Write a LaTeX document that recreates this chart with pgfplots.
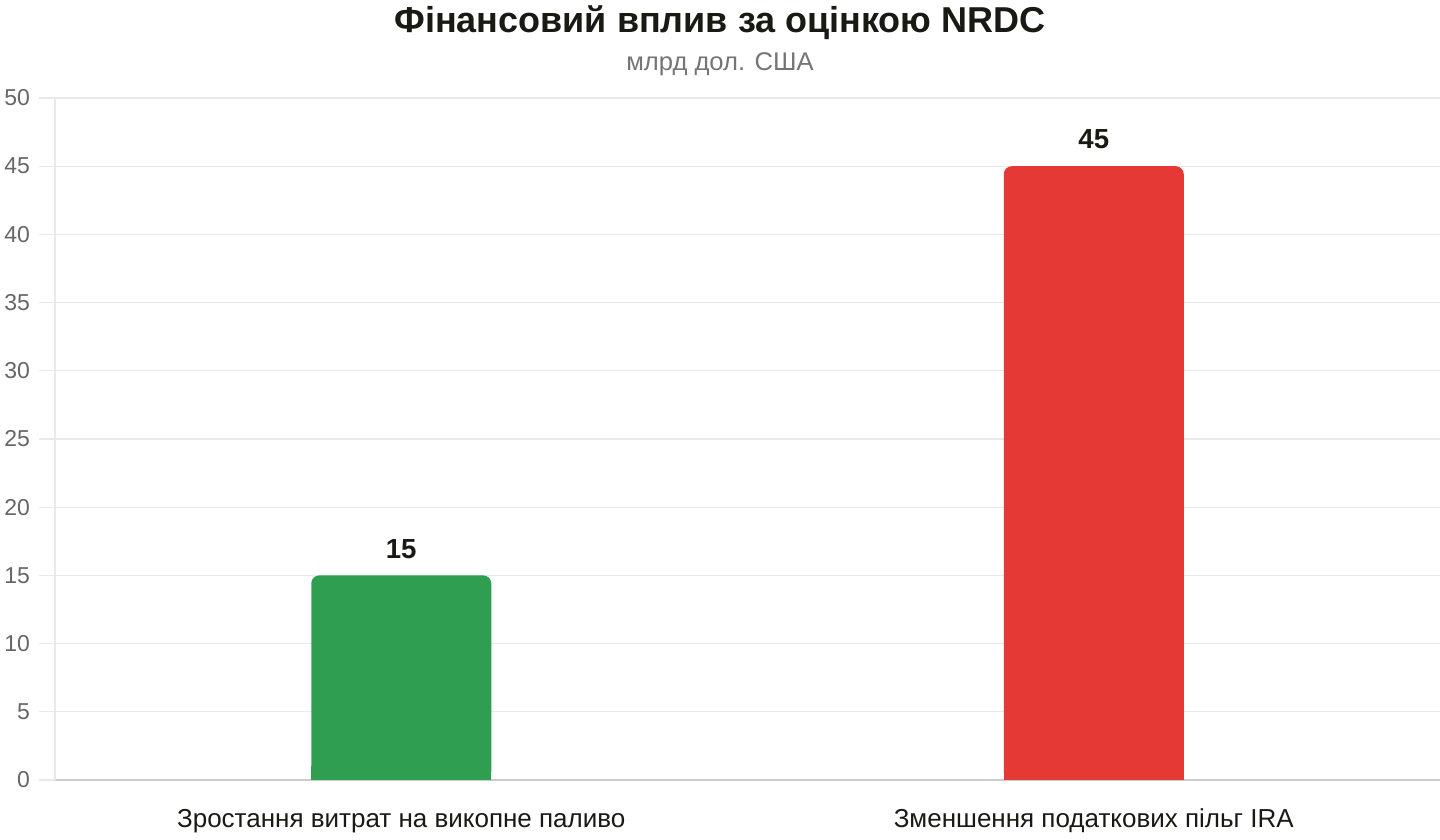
\documentclass[border=0pt]{standalone}
\usepackage{pgfplots}
\pgfplotsset{compat=1.18}
\usepackage{fontspec}
\setmainfont{Liberation Sans}
\definecolor{Cgreen}{RGB}{47,158,80}
\definecolor{Cred}{RGB}{229,57,53}
\definecolor{Cgrid}{RGB}{232,234,232}
\definecolor{Caxis}{RGB}{204,204,204}
\definecolor{Ctick}{RGB}{102,102,102}
\definecolor{Ctext}{RGB}{26,26,20}
\definecolor{Csub}{RGB}{117,117,117}
\begin{document}
\begin{tikzpicture}
	\useasboundingbox (0,0) rectangle (720pt,420pt);
	\begin{axis}[
		at={(27.5pt,30pt)},
		anchor=south west,
		scale only axis,
		width=692.5pt,
		height=341pt,
		ymin=0, ymax=50,
		ytick distance=5,
		xmin=-0.5, xmax=1.5,
		xtick={0,1},
		xticklabels={Зростання витрат на викопне паливо, Зменшення податкових пільг IRA},
		xticklabel style={font=\fontsize{13pt}{15pt}\selectfont, text=Ctext, yshift=-3pt},
		yticklabel style={font=\fontsize{11.5pt}{13pt}\selectfont, text=Ctick, xshift=-1pt},
		/pgf/number format/assume math mode=true,
		axis x line*=bottom,
		axis y line*=left,
		x axis line style={draw=Caxis, line width=0.7pt},
		y axis line style={draw=Cgrid, line width=0.6pt},
		major x tick style={draw=none},
		major y tick style={draw=Cgrid, line width=0.6pt},
		tick align=outside,
		major tick length=8pt,
		ymajorgrids=true,
		grid style={draw=Cgrid, line width=0.6pt},
		ybar,
		bar width=90pt,
		/pgf/bar shift=0pt,
		clip=false,
	]
		% bars with rounded tops
		\addplot[
			ybar,
			draw=none,
			fill=Cgreen,
			rounded corners=4pt,
			nodes near coords,
			every node near coord/.append style={font=\bfseries\fontsize{13.8pt}{16pt}\selectfont, text=Ctext, yshift=5pt},
		] coordinates {(0,15)};
		\addplot[
			ybar,
			draw=none,
			fill=Cred,
			rounded corners=4pt,
			nodes near coords,
			every node near coord/.append style={font=\bfseries\fontsize{13.8pt}{16pt}\selectfont, text=Ctext, yshift=5pt},
		] coordinates {(1,45)};
		% square off the bar bottoms
		\begin{scope}
			\clip (axis cs:-0.5,0) rectangle (axis cs:1.5,1);
			\addplot[ybar, draw=none, fill=Cgreen] coordinates {(0,15)};
			\addplot[ybar, draw=none, fill=Cred] coordinates {(1,45)};
		\end{scope}
	\end{axis}
	\node[font=\bfseries\fontsize{18pt}{21pt}\selectfont, text=Ctext] at (360pt,408.5pt) {Фінансовий вплив за оцінкою NRDC};
	\node[font=\fontsize{12.8pt}{15pt}\selectfont, text=Csub] at (360pt,388pt) {млрд дол. США};
\end{tikzpicture}
\end{document}
